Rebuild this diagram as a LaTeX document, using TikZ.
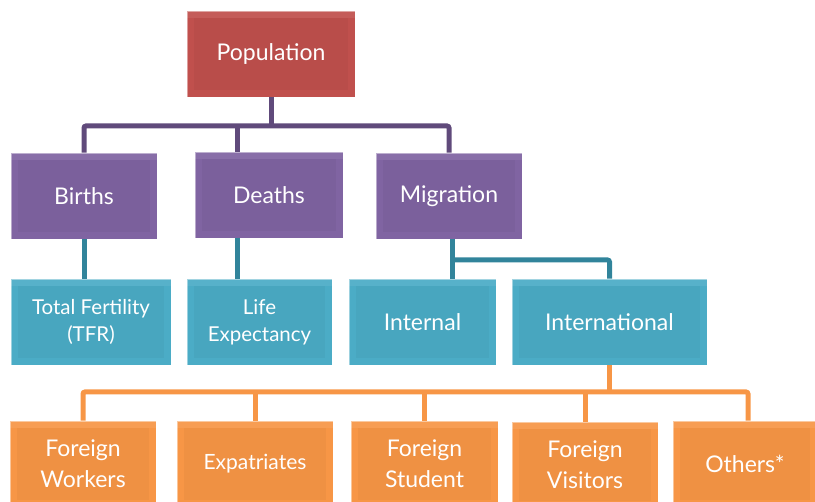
\documentclass[tikz,border=0pt]{standalone}
\usepackage{fontspec}
\setmainfont{Lato}
\usepackage{xcolor}
\usepackage{tikz}

\definecolor{popred}{HTML}{C0504D}
\definecolor{boxpurple}{HTML}{8064A2}
\definecolor{boxteal}{HTML}{4BACC6}
\definecolor{boxorange}{HTML}{F79646}
\definecolor{linepurple}{HTML}{604A7B}
\definecolor{lineteal}{HTML}{31849B}
\definecolor{lineorange}{HTML}{F79646}

\begin{document}
\begin{tikzpicture}[x=1pt,y=-1pt,
        box/.style={rectangle,inner sep=0pt,align=center,text=white,
          font=\fontsize{23}{31}\selectfont,
          draw=white,draw opacity=0.45,line width=0.8pt,
          path picture={
            \fill[white,opacity=0.07] (path picture bounding box.north west) rectangle ([yshift=-7pt]path picture bounding box.north east);
            \fill[black,opacity=0.03] ([shift={(7pt,-7pt)}]path picture bounding box.north west) rectangle ([shift={(-7pt,7pt)}]path picture bounding box.south east);
          }},
        small/.style={font=\fontsize{20.5}{27}\selectfont},
        redbox/.style={box,fill=popred,minimum width=168pt,minimum height=86pt},
        purplebox/.style={box,fill=boxpurple,minimum height=86pt},
        tealbox/.style={box,fill=boxteal,minimum height=86pt},
        orangebox/.style={box,fill=boxorange,minimum height=86pt},
        link/.style={line width=5pt,rounded corners=2pt}]
        \useasboundingbox (0,0) rectangle (815,502);

        % top level
        \node at (271,54) [redbox] (pop) {Population};

        % second level
        \node at (84,196) [purplebox,minimum width=146pt] (births) {Births};
        \node at (269,195) [purplebox,minimum width=148pt] (deaths) {Deaths};
        \node at (449,196) [purplebox,minimum width=146pt] (migr) {Migration};

        % third level
        \node at (91,322) [tealbox,small,minimum width=160pt] (tfr) {Total Fertility\\(TFR)};
        \node at (259.5,322) [tealbox,small,minimum width=145pt] (life) {Life\\Expectancy};
        \node at (422.5,322) [tealbox,minimum width=147pt] (intern) {Internal};
        \node at (609.5,322) [tealbox,minimum width=195pt] (intl) {International};

        % fourth level
        \node at (83,464) [orangebox,minimum width=146pt] (workers) {Foreign\\Workers};
        \node at (255,464) [orangebox,font=\fontsize{21}{27}\selectfont,minimum width=156pt] (expat) {Expatriates};
        \node at (424.5,464) [orangebox,minimum width=147pt] (student) {Foreign\\Student};
        \node at (585,465) [orangebox,minimum width=146pt] (visit) {Foreign\\Visitors};
        \node at (745,464) [orangebox,minimum width=144pt] (others) {Others*};

        % drop points that are off the box centres
        \coordinate (deathtop) at (237,152);
        \coordinate (deathbot) at (237,238);
        \coordinate (interntop) at (452,279);
        \coordinate (migrbot) at (452,239);

        % connectors
        \draw[link,linepurple] (pop.south) -- (271,126) coordinate (pbus);
        \draw[link,linepurple] (births.north) |- (pbus) -| (migr.north);
        \draw[link,linepurple] (deathtop) -- (deathtop |- pbus);

        \draw[link,lineteal] (births.south) -- (births.south |- tfr.north);
        \draw[link,lineteal] (deathbot) -- (deathbot |- life.north);
        \draw[link,lineteal] (migrbot) -- (interntop);
        \draw[link,lineteal] (452,260) coordinate (tbus) -| (intl.north);

        \draw[link,lineorange] (intl.south) -- (609.5,392) coordinate (obus);
        \draw[link,lineorange] (workers.north) |- (obus) -| ([xshift=3pt]others.north);
        \draw[link,lineorange] (expat.north) -- (expat.north |- obus);
        \draw[link,lineorange] (student.north) -- (student.north |- obus);
        \draw[link,lineorange] (visit.north) -- (visit.north |- obus);
\end{tikzpicture}
\end{document}
